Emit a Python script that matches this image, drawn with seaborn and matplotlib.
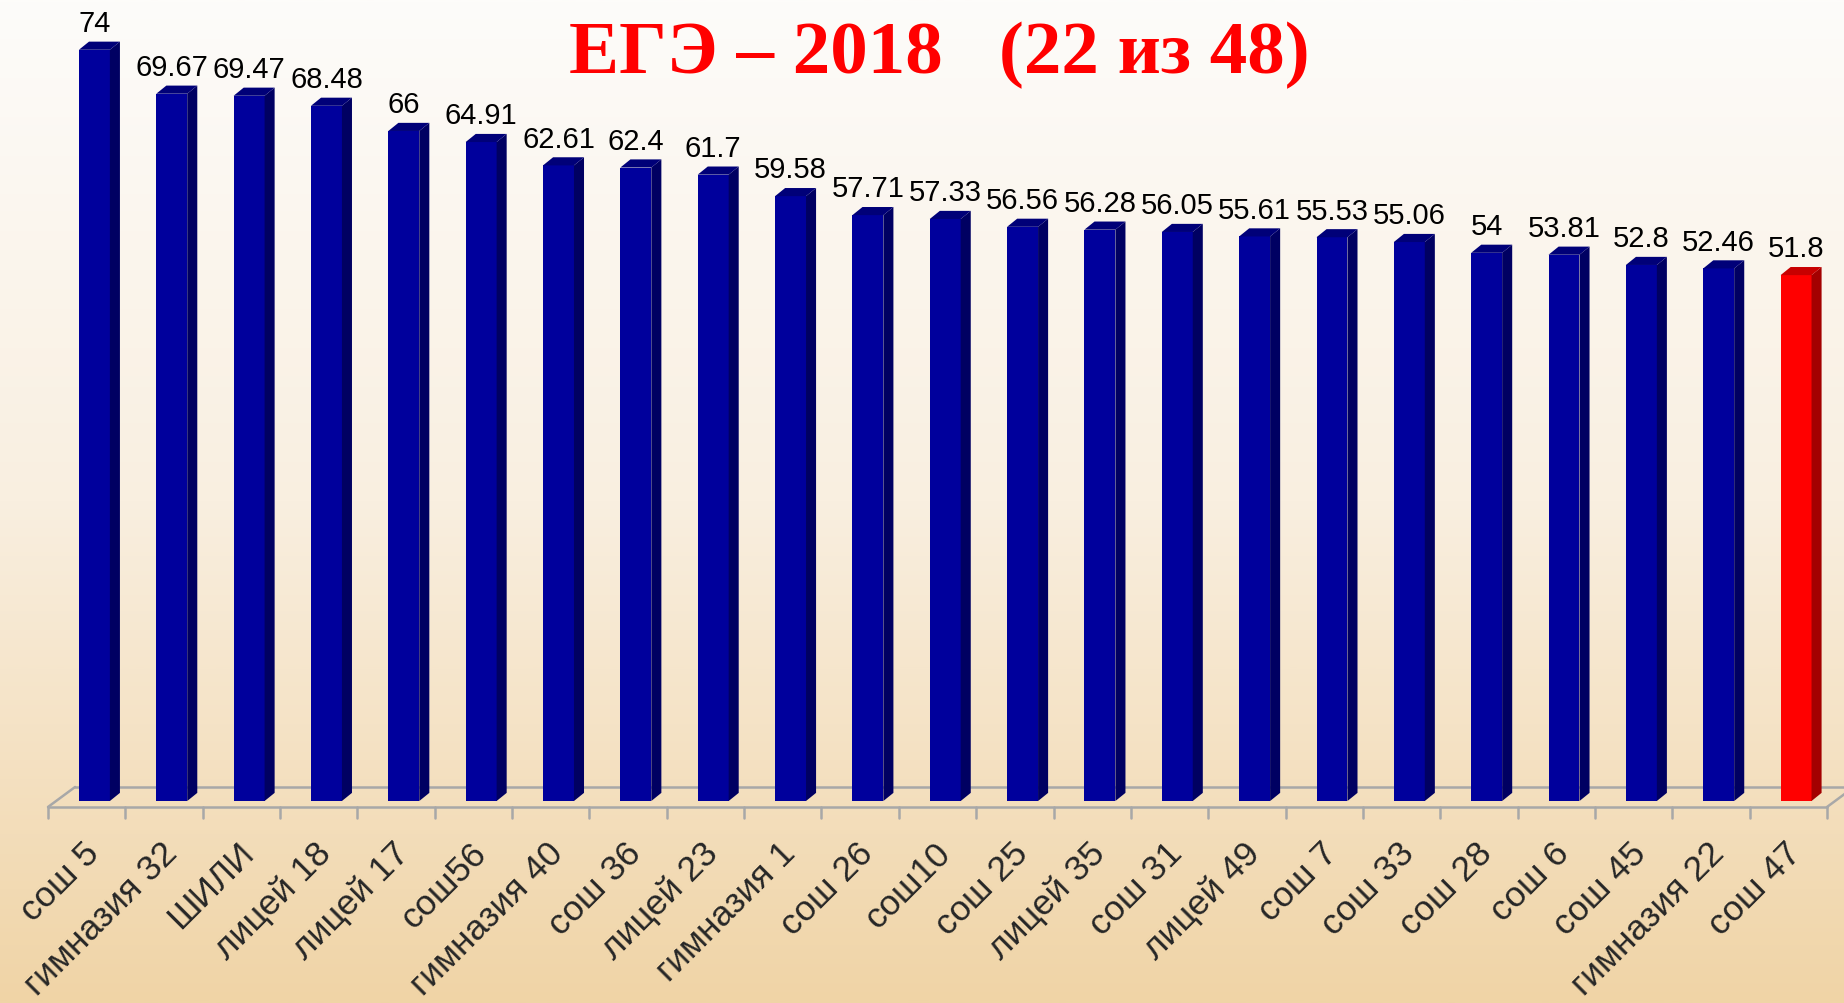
import numpy as np
import pandas as pd
import matplotlib
matplotlib.use("Agg")
import matplotlib.pyplot as plt
import matplotlib.transforms as mtransforms
from matplotlib.patches import Polygon
from matplotlib.colors import LinearSegmentedColormap
import seaborn as sns

# ---------------- data ----------------
schools = ["сош 5", "гимназия 32", "ШИЛИ", "лицей 18", "лицей 17", "сош56",
           "гимназия 40", "сош 36", "лицей 23", "гимназия 1", "сош 26", "сош10",
           "сош 25", "лицей 35", "сош 31", "лицей 49", "сош 7", "сош 33",
           "сош 28", "сош 6", "сош 45", "гимназия 22", "сош 47"]
scores = [74, 69.67, 69.47, 68.48, 66, 64.91, 62.61, 62.4, 61.7, 59.58, 57.71,
          57.33, 56.56, 56.28, 56.05, 55.61, 55.53, 55.06, 54, 53.81, 52.8,
          52.46, 51.8]
value_labels = ["74", "69.67", "69.47", "68.48", "66", "64.91", "62.61", "62.4",
                "61.7", "59.58", "57.71", "57.33", "56.56", "56.28", "56.05",
                "55.61", "55.53", "55.06", "54", "53.81", "52.8", "52.46", "51.8"]
highlight = "сош 47"
title = "ЕГЭ – 2018   (22 из 48)"

# ---------------- style ----------------
sns.set_style("white")
plt.rcParams['font.family'] = ['Liberation Sans', 'DejaVu Sans']

W, H = 1844, 1004
fig = plt.figure(figsize=(W / 100, H / 100), dpi=100)

# background gradient
bg = fig.add_axes([0, 0, 1, 1], zorder=-10)
cmap = LinearSegmentedColormap.from_list("bg", ["#fdfcfa", "#f9efe0", "#f0d4a6"])
bg.imshow(np.linspace(0, 1, 512).reshape(-1, 1), aspect="auto", cmap=cmap,
          extent=[0, 1, 0, 1], origin="upper")
bg.set_axis_off()

ax = fig.add_axes([48 / W, 202 / H, 1779 / W, 802 / H])
ax.patch.set_alpha(0)

df = pd.DataFrame({"school": schools, "score": scores})
front_col = {s: ("#ff0000" if s == highlight else "#00009c") for s in schools}
side_col = {s: ("#a30000" if s == highlight else "#000062") for s in schools}
top_col = {s: ("#c80000" if s == highlight else "#000078") for s in schools}

sns.barplot(data=df, x="school", y="score", hue="school", palette=front_col,
            width=0.4, legend=False, ax=ax, saturation=1, edgecolor="none",
            zorder=3)
ax.set_xlim(-0.5, len(schools) - 0.5)
ax.set_ylim(0, 79)

DX, DY = 0.13, 0.8   # depth of the 3D effect (data units)
SHIFT = 0.1

# floor
fy_front, fy_back, fdx = -0.59, 1.38, 0.35
floor_kw = dict(color="#a8a8a8", lw=1.8, clip_on=False, zorder=1)
n = len(schools)
ax.plot([-0.5, n - 0.5], [fy_front, fy_front], **floor_kw)
ax.plot([-0.5 + fdx, n - 0.5 + fdx], [fy_back, fy_back], **floor_kw)
ax.plot([-0.5, -0.5 + fdx], [fy_front, fy_back], **floor_kw)
ax.plot([n - 0.5, n - 0.5 + fdx], [fy_front, fy_back], **floor_kw)
for b in np.arange(-0.5, n, 1.0):
    ax.plot([b, b], [fy_front, fy_front - 1.1], **floor_kw)

# 3D bar faces + value labels
for p, s, lab in zip(ax.patches, schools, value_labels):
    p.set_x(p.get_x() + SHIFT)
    x0, w, v = p.get_x(), p.get_width(), p.get_height()
    x1 = x0 + w
    side = Polygon([(x1, 0), (x1, v), (x1 + DX, v + DY), (x1 + DX, DY)],
                   closed=True, fc=side_col[s], ec="none", zorder=3)
    top = Polygon([(x0, v), (x1, v), (x1 + DX, v + DY), (x0 + DX, v + DY)],
                  closed=True, fc=top_col[s], ec="none", zorder=3)
    ax.add_patch(side)
    ax.add_patch(top)
    ax.annotate(lab, (x0 + w / 2, v), xytext=(0, 13.5), textcoords="offset points",
                ha="center", va="baseline", fontsize=21, color="black")

# axes cosmetics
for sp in ax.spines.values():
    sp.set_visible(False)
ax.set_yticks([])
ax.set_xlabel("")
ax.set_ylabel("")
ax.tick_params(axis="x", length=0, pad=25)
ax.set_xticks(range(n))
ax.set_xticklabels(schools, rotation=45, ha="right", va="top",
                   rotation_mode="anchor", fontsize=25.5)
offset = mtransforms.ScaledTranslation(-4 / 100, 0, fig.dpi_scale_trans)
for t in ax.get_xticklabels():
    t.set_transform(t.get_transform() + offset)

fig.text(939 / W, 1 - 55 / H, title, ha="center", va="center", color="#ff0000",
         fontsize=54, fontweight="bold",
         family=["Liberation Serif", "DejaVu Serif"])

fig.savefig("out.png", dpi=100)
